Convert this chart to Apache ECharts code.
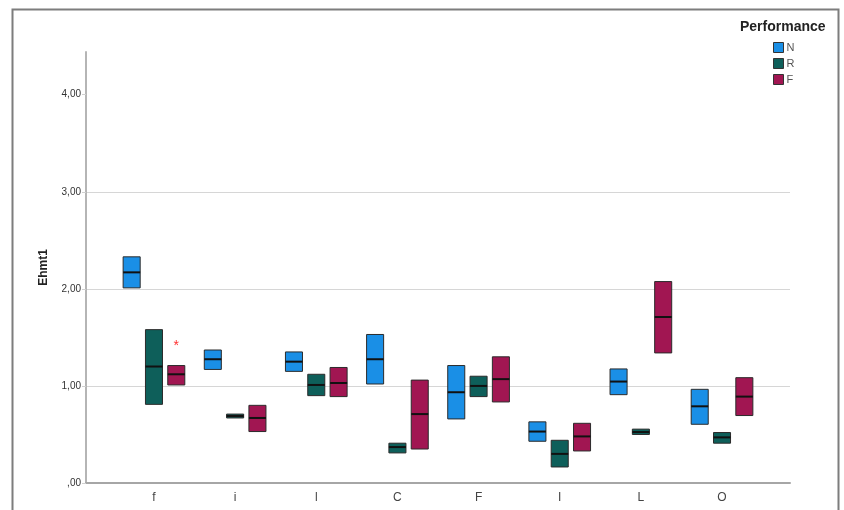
<!DOCTYPE html>
<html>
<head>
<meta charset="utf-8">
<script src="https://cdn.jsdelivr.net/npm/echarts@6/dist/echarts.min.js"></script>
<style>
html,body{margin:0;padding:0;background:#fff;}
#chart{width:844px;height:510px;}
</style>
</head>
<body>
<div id="chart"></div>
<script>
// ---- data ----
const categories = ['f', 'i', 'l', 'C', 'F', 'I', 'L', 'O'];
const groupNames = ['N', 'R', 'F'];
const yTickValues = [0, 1, 2, 3, 4];
const yTickLabels = [',00', '1,00', '2,00', '3,00', '4,00'];

const nQ1  = [2.01, 1.17, 1.15, 1.02, 0.66, 0.43, 0.91, 0.605];
const nMed = [2.17, 1.275, 1.25, 1.275, 0.935, 0.53, 1.045, 0.79];
const nQ3  = [2.33, 1.37, 1.35, 1.53, 1.21, 0.63, 1.175, 0.965];

const rQ1  = [0.81, 0.67, 0.90, 0.31, 0.89, 0.165, 0.50, 0.41];
const rMed = [1.20, 0.69, 1.01, 0.37, 1.00, 0.30, 0.525, 0.47];
const rQ3  = [1.58, 0.71, 1.12, 0.41, 1.10, 0.44, 0.555, 0.52];

const fQ1  = [1.01, 0.53, 0.89, 0.35, 0.835, 0.33, 1.34, 0.695];
const fMed = [1.12, 0.67, 1.03, 0.71, 1.07, 0.48, 1.71, 0.89];
const fQ3  = [1.21, 0.80, 1.19, 1.06, 1.30, 0.615, 2.075, 1.085];

// outliers: [category index, group index, value]
const outliers = [[0, 2, 1.44]];

const colors = ['#1a8fe6', '#0e5f5a', '#a11652'];
const FONT = 'Liberation Sans, Arial, sans-serif';

const groups = [
  [nQ1, nMed, nQ3],
  [rQ1, rMed, rQ3],
  [fQ1, fMed, fQ3]
];

const STEP = 0.275, WIDTH = 0.21;

function makeRender(si) {
  return function (params, api) {
    const cat = api.value(0);
    const q1 = api.value(1), med = api.value(2), q3 = api.value(3);
    const band = api.size([1, 0])[0];
    const w = band * WIDTH;
    const cx = api.coord([cat, 0])[0] + (si - 1) * band * STEP;
    const yTop = api.coord([cat, q3])[1];
    const yBot = api.coord([cat, q1])[1];
    const yMed = api.coord([cat, med])[1];
    return {
      type: 'group',
      children: [
        { type: 'rect', shape: { x: cx - w / 2, y: yTop, width: w, height: yBot - yTop },
          style: { fill: colors[si], stroke: '#2b2b2b', lineWidth: 1 } },
        { type: 'line', shape: { x1: cx - w / 2, y1: yMed, x2: cx + w / 2, y2: yMed },
          style: { stroke: '#111', lineWidth: 2 } }
      ]
    };
  };
}

const YMAX = 4.44;

const series = groups.map(function (g, si) {
  return {
    name: groupNames[si],
    type: 'custom',
    xAxisIndex: 1,
    yAxisIndex: 1,
    itemStyle: { color: colors[si], borderColor: '#333', borderWidth: 1 },
    renderItem: makeRender(si),
    encode: { x: 0, y: [1, 2, 3] },
    data: categories.map(function (c, i) { return [i, g[0][i], g[1][i], g[2][i]]; }),
    silent: true
  };
});

series.push({
  name: 'outliers',
  type: 'custom',
  xAxisIndex: 1,
  yAxisIndex: 1,
  encode: { x: 0, y: 2 },
  data: outliers,
  renderItem: function (params, api) {
    const cat = api.value(0), gi = api.value(1), v = api.value(2);
    const band = api.size([1, 0])[0];
    const p = api.coord([cat, v]);
    return {
      type: 'text',
      style: { text: '*', x: p[0] + (gi - 1) * band * STEP, y: p[1] + 3,
        fill: '#ff3030', font: '14px ' + FONT, align: 'center', verticalAlign: 'middle' }
    };
  },
  silent: true
});

const chart = echarts.init(document.getElementById('chart'), null, { renderer: 'canvas' });
chart.setOption({
  backgroundColor: '#fff',
  animation: false,
  title: {
    text: 'Performance', left: 740, top: 20, padding: 0,
    textStyle: { fontFamily: FONT, fontSize: 14, fontWeight: 'bold', color: '#222' }
  },
  legend: {
    data: groupNames, orient: 'vertical', left: 773, top: 42, padding: 0,
    itemWidth: 10, itemHeight: 10, itemGap: 5, icon: 'rect',
    itemStyle: { borderColor: '#333', borderWidth: 1 },
    textStyle: { fontFamily: FONT, fontSize: 11, color: '#555', padding: [0, 0, 0, -2] },
    selectedMode: false
  },
  graphic: [{
    type: 'rect', left: 10, top: 7, shape: { width: 826, height: 540 },
    style: { fill: 'none', stroke: '#7d7d7d', lineWidth: 2 }, silent: true
  }],
  grid: [
    { left: 86, right: 54, top: 52, bottom: 27 },
    { left: 113.4, right: 81.4, top: 52, bottom: 27 }
  ],
  xAxis: [
    { type: 'value', gridIndex: 0, min: 0, max: 1,
      axisLine: { show: true, onZero: false, lineStyle: { color: '#a6a6a6', width: 2 } },
      axisTick: { show: false }, axisLabel: { show: false }, splitLine: { show: false } },
    { type: 'category', gridIndex: 1, data: categories, boundaryGap: true,
      axisLine: { show: false }, axisTick: { show: false }, splitLine: { show: false },
      axisLabel: { margin: 9, fontFamily: FONT, fontSize: 12, color: '#444' } }
  ],
  yAxis: [
    { type: 'value', gridIndex: 0, min: 0, max: YMAX, interval: 1,
      name: 'Ehmt1', nameLocation: 'middle', nameGap: 36, nameRotate: 90,
      nameTextStyle: { fontFamily: FONT, fontSize: 12, fontWeight: 'bold', color: '#222' },
      axisLine: { show: true, lineStyle: { color: '#b5b5b5', width: 2 } },
      axisTick: { show: true, length: 4, lineStyle: { color: '#d0d0d0' }, customValues: yTickValues },
      axisLabel: { margin: 5, fontFamily: FONT, fontSize: 10, color: '#333',
        customValues: yTickValues,
        formatter: function (v) { const i = yTickValues.indexOf(v); return i >= 0 ? yTickLabels[i] : ''; } },
      splitLine: { show: true, showMaxLine: false, showMinLine: false, lineStyle: { color: '#d6d6d6', width: 1 } } },
    { type: 'value', gridIndex: 1, min: 0, max: YMAX, show: false, splitLine: { show: false } }
  ],
  series: series
});
</script>
</body>
</html>
